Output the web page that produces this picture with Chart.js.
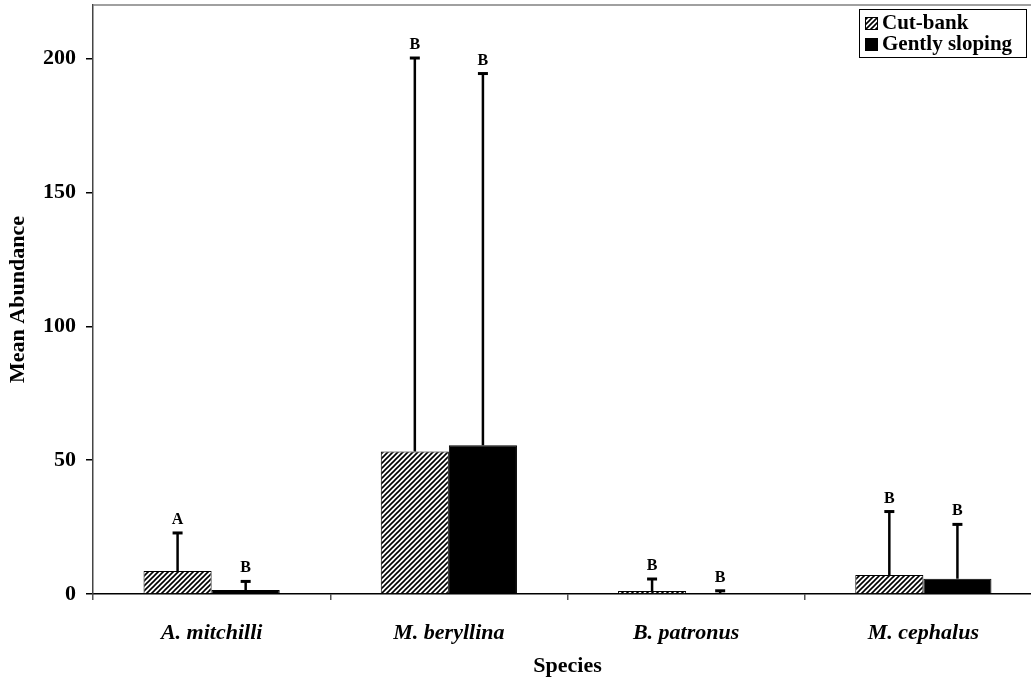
<!DOCTYPE html>
<html>
<head>
<meta charset="utf-8">
<script src="https://cdn.jsdelivr.net/npm/chart.js@4/dist/chart.umd.min.js"></script>
<style>
  html, body { margin: 0; padding: 0; background: #fff; overflow: hidden; }
  canvas { display: block; }
</style>
</head>
<body>
<canvas id="chart" width="1043" height="685"></canvas>
<script>
// data
const species = ['A. mitchilli', 'M. beryllina', 'B. patronus', 'M. cephalus'];
const cutBank = [8.6, 53.2, 1.1, 7.1];
const gentlySloping = [1.5, 55.6, 0.3, 5.7];
// one-sided error bars (amount above the mean)
const cutBankErr = [14.2, 147.0, 4.5, 23.7];
const gentlySlopingErr = [3.2, 138.8, 0.9, 20.3];
// significance letters
const cutBankLetters = ['A', 'B', 'B', 'B'];
const gentlySlopingLetters = ['B', 'B', 'B', 'B'];
const yTicks = [0, 50, 100, 150, 200];

const serif = 'Liberation Serif';

// hatch pattern for the cut-bank bars
function makeHatch() {
  const size = 5;
  const c = document.createElement('canvas');
  c.width = size; c.height = size;
  const g = c.getContext('2d');
  g.fillStyle = '#fff';
  g.fillRect(0, 0, size, size);
  g.strokeStyle = '#000';
  g.lineWidth = 1.6;
  g.beginPath();
  g.moveTo(-1, size + 1); g.lineTo(size + 1, -1);
  g.moveTo(-1, 1); g.lineTo(1, -1);
  g.moveTo(size - 1, size + 1); g.lineTo(size + 1, size - 1);
  g.stroke();
  return g.createPattern(c, 'repeat');
}

const ctx = document.getElementById('chart').getContext('2d');
const hatch = makeHatch();

// error bars + letters
const errorBars = {
  id: 'errorBars',
  afterDatasetsDraw(chart) {
    const c = chart.ctx;
    const y = chart.scales.y;
    const errs = [cutBankErr, gentlySlopingErr];
    const letters = [cutBankLetters, gentlySlopingLetters];
    c.save();
    c.strokeStyle = '#000';
    c.fillStyle = '#000';
    chart.data.datasets.forEach((ds, i) => {
      const meta = chart.getDatasetMeta(i);
      meta.data.forEach((bar, j) => {
        const top = y.getPixelForValue(ds.data[j] + errs[i][j]);
        c.lineWidth = 2.5;
        c.beginPath();
        c.moveTo(bar.x, bar.y);
        c.lineTo(bar.x, top);
        c.stroke();
        c.lineWidth = 3;
        c.beginPath();
        c.moveTo(bar.x - 5, top);
        c.lineTo(bar.x + 5, top);
        c.stroke();
        c.font = 'bold 16px "' + serif + '"';
        c.textAlign = 'center';
        c.textBaseline = 'alphabetic';
        c.fillText(letters[i][j], bar.x, top - 9);
      });
    });
    c.restore();
  }
};

// plot frame (top line) and boxed legend
const frameAndLegend = {
  id: 'frameAndLegend',
  afterDraw(chart) {
    const c = chart.ctx;
    const a = chart.chartArea;
    c.save();
    c.strokeStyle = '#808080';
    c.lineWidth = 1.5;
    c.beginPath();
    c.moveTo(a.left, a.top);
    c.lineTo(a.right, a.top);
    c.stroke();

    const lx = 859, ly = 9, lw = 167, lh = 48;
    c.fillStyle = '#fff';
    c.fillRect(lx, ly, lw, lh);
    c.strokeStyle = '#000';
    c.lineWidth = 1;
    c.strokeRect(lx + 0.5, ly + 0.5, lw, lh);
    c.font = 'bold 21px "' + serif + '"';
    c.textAlign = 'left';
    c.textBaseline = 'middle';
    chart.data.datasets.forEach((ds, i) => {
      const cy = ly + 14 + i * 21;
      c.fillStyle = ds.backgroundColor;
      c.fillRect(lx + 6, cy - 6, 13, 13);
      c.strokeStyle = '#000';
      c.strokeRect(lx + 6.5, cy - 5.5, 12, 12);
      c.fillStyle = '#000';
      c.fillText(ds.label, lx + 23, cy + 1);
    });
    c.restore();
  }
};

new Chart(ctx, {
  type: 'bar',
  data: {
    labels: species,
    datasets: [
      { label: 'Cut-bank', data: cutBank, backgroundColor: hatch, borderColor: '#000', borderWidth: 1 },
      { label: 'Gently sloping', data: gentlySloping, backgroundColor: '#000', borderColor: '#000', borderWidth: 1 }
    ]
  },
  options: {
    responsive: false,
    animation: false,
    layout: { padding: { top: 5, left: 0, right: 1, bottom: 0 } },
    datasets: { bar: { categoryPercentage: 0.574, barPercentage: 1 } },
    plugins: { legend: { display: false }, tooltip: { enabled: false } },
    scales: {
      x: {
        grid: { drawOnChartArea: false, offset: true, tickLength: 6, color: '#555', lineWidth: 1.5 },
        border: { color: '#000', width: 1.5 },
        ticks: {
          color: '#000', padding: 20,
          font: { family: serif, weight: 'bold', style: 'italic', size: 22 }
        },
        title: {
          display: true, text: 'Species', color: '#000',
          font: { family: serif, weight: 'bold', size: 22 },
          padding: { top: 0, bottom: 5 }
        },
        afterFit(scale) {
          scale.height = 91;
          scale.paddingLeft = 0; scale.paddingRight = 0;
        }
      },
      y: {
        min: 0, max: 220,
        afterBuildTicks(scale) { scale.ticks = yTicks.map(v => ({ value: v })); },
        grid: { drawOnChartArea: false, tickLength: 7, color: '#000', lineWidth: 1.5 },
        border: { color: '#444', width: 1.5 },
        ticks: {
          color: '#000', padding: 10,
          font: { family: serif, weight: 'bold', size: 22 }
        },
        title: {
          display: true, text: 'Mean Abundance', color: '#000',
          font: { family: serif, weight: 'bold', size: 22 },
          padding: { top: 5, bottom: 0 }
        },
        afterFit(scale) {
          scale.width = 93;
          scale.paddingTop = 0; scale.paddingBottom = 0;
        }
      }
    }
  },
  plugins: [errorBars, frameAndLegend]
});
</script>
</body>
</html>
